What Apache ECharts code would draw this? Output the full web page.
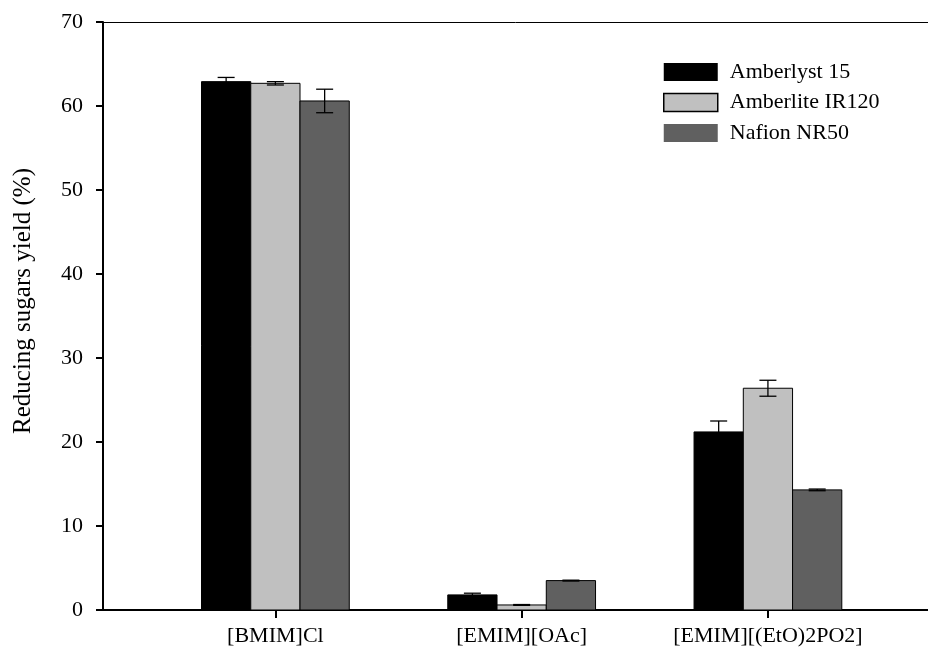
<!DOCTYPE html>
<html>
<head>
<meta charset="utf-8">
<script src="https://cdn.jsdelivr.net/npm/echarts@6/dist/echarts.min.js"></script>
<style>html,body{margin:0;padding:0;background:#fff}#c{width:928px;height:655px}</style>
</head>
<body>
<div id="c"></div>
<script>
const categories = ['[BMIM]Cl', '[EMIM][OAc]', '[EMIM][(EtO)2PO2]'];
const seriesNames = ['Amberlyst 15', 'Amberlite IR120', 'Nafion NR50'];
const amberlyst15 = [62.9, 1.8, 21.2];
const amberlyst15Err = [0.5, 0.2, 1.3];
const amberliteIR120 = [62.7, 0.6, 26.4];
const amberliteIR120Err = [0.2, 0.05, 0.95];
const nafionNR50 = [60.6, 3.5, 14.3];
const nafionNR50Err = [1.4, 0.05, 0.1];
const yTicks = [0, 10, 20, 30, 40, 50, 60, 70];
const yTitle = 'Reducing sugars yield (%)';

const colors = ['#000000', '#c0c0c0', '#606060'];
const FONT = 'Liberation Serif';
const chart = echarts.init(document.getElementById('c'), null, {renderer: 'canvas'});

function mk(vals, errs) {
  return vals.map((v, i) => [i + 1, v, errs[i]]);
}
const allData = [mk(amberlyst15, amberlyst15Err), mk(amberliteIR120, amberliteIR120Err), mk(nafionNR50, nafionNR50Err)];
const BW = 0.2;

function makeSeries(k) {
  const offset = (k - 1) * BW;
  return {
    type: 'custom',
    name: seriesNames[k],
    xAxisIndex: 0,
    yAxisIndex: 0,
    itemStyle: {color: colors[k]},
    data: allData[k],
    renderItem: function (params, api) {
      const x = api.value(0) + offset, y = api.value(1), e = api.value(2);
      const p0 = api.coord([x - BW / 2, y]);
      const p1 = api.coord([x + BW / 2, 0]);
      const t = api.coord([x, y + e]);
      const b = api.coord([x, y - e]);
      const cap = 8.5;
      return {
        type: 'group',
        children: [
          {type: 'rect', shape: {x: p0[0], y: p0[1], width: p1[0] - p0[0], height: p1[1] - p0[1]},
           style: {fill: colors[k], stroke: '#000', lineWidth: 1}},
          {type: 'line', shape: {x1: t[0], y1: t[1], x2: b[0], y2: b[1]}, style: {stroke: '#000', lineWidth: 1.3}},
          {type: 'line', shape: {x1: t[0] - cap, y1: t[1], x2: t[0] + cap, y2: t[1]}, style: {stroke: '#000', lineWidth: 1.3}},
          {type: 'line', shape: {x1: b[0] - cap, y1: b[1], x2: b[0] + cap, y2: b[1]}, style: {stroke: '#000', lineWidth: 1.3}}
        ]
      };
    }
  };
}

chart.setOption({
  animation: false,
  textStyle: {fontFamily: FONT},
  grid: {left: 103, right: 0, top: 22, bottom: 45},
  graphic: [{
    type: 'text', x: 23, y: 301, rotation: Math.PI / 2,
    style: {text: yTitle, fontFamily: FONT, fontSize: 25, fill: '#000', align: 'center', verticalAlign: 'middle'}
  }],
  legend: {
    orient: 'vertical', left: 663, top: 61, itemWidth: 54, itemHeight: 18, itemGap: 8.5, padding: 0,
    icon: 'rect',
    textStyle: {fontFamily: FONT, fontSize: 22, color: '#000', padding: [0, 0, 0, 7]},
    data: [
      {name: seriesNames[0], itemStyle: {color: colors[0], borderWidth: 0}},
      {name: seriesNames[1], itemStyle: {color: colors[1], borderColor: '#000', borderWidth: 1.5}},
      {name: seriesNames[2], itemStyle: {color: colors[2], borderWidth: 0}}
    ]
  },
  xAxis: [{
    type: 'value', min: 0.3, max: 3.65, position: 'bottom',
    splitLine: {show: false},
    axisLine: {show: true, lineStyle: {color: '#000', width: 2}},
    axisTick: {show: true, customValues: [1, 2, 3], length: 8, inside: false, lineStyle: {color: '#000', width: 2}},
    axisLabel: {show: true, customValues: [1, 2, 3], margin: 15, fontFamily: FONT, fontSize: 22, color: '#000',
      formatter: v => categories[Math.round(v) - 1] || ''}
  }, {
    type: 'value', min: 0.3, max: 3.65, position: 'top',
    splitLine: {show: false},
    axisLine: {show: true, lineStyle: {color: '#000', width: 1}},
    axisTick: {show: false}, axisLabel: {show: false}
  }],
  yAxis: {
    type: 'value', min: 0, max: 70, interval: 10,
    splitLine: {show: false},
    axisLine: {show: true, lineStyle: {color: '#000', width: 2}},
    axisTick: {show: true, length: 7, lineStyle: {color: '#000', width: 2}},
    axisLabel: {margin: 20, fontFamily: FONT, fontSize: 22, color: '#000', formatter: v => yTicks.includes(v) ? String(v) : ''}
  },
  series: [makeSeries(0), makeSeries(1), makeSeries(2)]
});
</script>
</body>
</html>
